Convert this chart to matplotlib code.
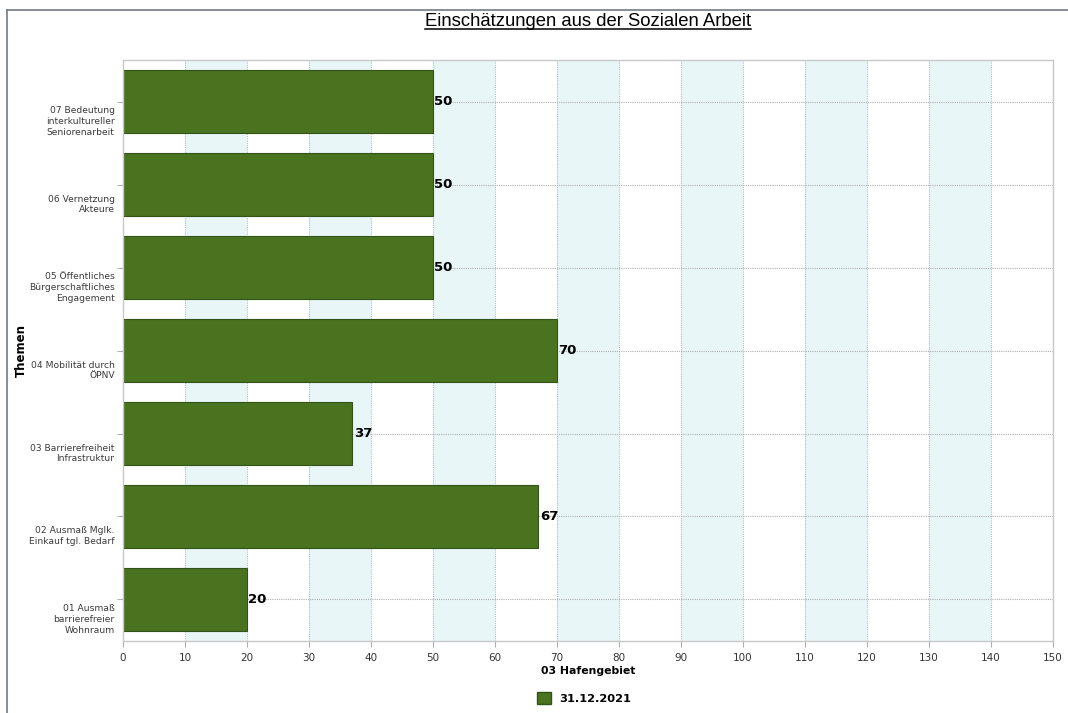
import matplotlib.pyplot as plt
from matplotlib.lines import Line2D
from matplotlib.patches import Rectangle
from matplotlib.transforms import ScaledTranslation
import numpy as np

# categories bottom -> top
themes = [
    "01 Ausmaß\nbarrierefreier\nWohnraum",
    "02 Ausmaß Mglk.\nEinkauf tgl. Bedarf",
    "03 Barrierefreiheit\nInfrastruktur",
    "04 Mobilität durch\nÖPNV",
    "05 Öffentliches\nBürgerschaftliches\nEngagement",
    "06 Vernetzung\nAkteure",
    "07 Bedeutung\ninterkultureller\nSeniorenarbeit",
]
values = [20, 67, 37, 70, 50, 50, 50]
series_label = "31.12.2021"
x_ticks = list(range(0, 151, 10))

bar_color = "#4a7320"
edge_color = "#34531a"
band_color = "#e8f6f8"

fig = plt.figure(figsize=(10.68, 7.13), dpi=100)
ax = fig.add_axes([0.1152, 0.1010, 0.8708, 0.8148])

y = np.arange(len(themes))
ax.set_xlim(0, 150)
ax.set_ylim(-0.5, len(themes) - 0.5)

# alternating background bands
for start in range(10, 150, 20):
    ax.axvspan(start, start + 10, color=band_color, zorder=0, lw=0)

for xv in x_ticks[1:]:
    ax.axvline(xv, color="#b4bfc3", linestyle=(0, (1, 1)), linewidth=0.8, zorder=1)
for yv in y:
    ax.axhline(yv, color="#b0b0b0", linestyle=(0, (1, 1)), linewidth=0.8, zorder=1)

ax.barh(y, values, height=0.75, color=bar_color, edgecolor=edge_color, linewidth=0.8, zorder=2)

for yv, v in zip(y, values):
    ax.text(v + 0.2, yv, str(v), ha="left", va="center", fontsize=9.5,
            fontweight="bold", color="black", zorder=3, family="DejaVu Sans")

ax.set_xticks(x_ticks)
ax.set_yticks(y)
ax.set_yticklabels(themes, fontsize=6.6, color="#3a3a3a", family="DejaVu Sans",
                   linespacing=1.25)
ax.tick_params(axis="x", labelsize=7.5, colors="#333333", length=4, color="#b0b0b0", pad=5)
ax.tick_params(axis="y", length=4, color="#b0b0b0", pad=2)
# the category labels sit a bit below their tick in the original
shift = ScaledTranslation(0, -0.18, fig.dpi_scale_trans)
for lbl in ax.get_yticklabels():
    lbl.set_ha("right")
    lbl.set_multialignment("right")
    lbl.set_transform(lbl.get_transform() + shift)

for sp in ax.spines.values():
    sp.set_color("#c8c8c8")
    sp.set_linewidth(1.0)

ax.set_xlabel("03 Hafengebiet", fontsize=7.8, fontweight="bold", labelpad=2)
ax.set_ylabel("Themen", fontsize=8.5, fontweight="bold")
ax.yaxis.set_label_coords(-0.102, 0.5)

# outer frame lines (top and left)
fig.add_artist(Line2D([7 / 1068, 1.0], [1 - 10 / 713, 1 - 10 / 713], color="#6e7b85", lw=1.2))
fig.add_artist(Line2D([7 / 1068, 7 / 1068], [0.0, 1 - 10 / 713], color="#6e7b85", lw=1.2))

# underlined title
title = fig.text(588 / 1068, 1 - 21 / 713, "Einschätzungen aus der Sozialen Arbeit",
                 ha="center", va="center", fontsize=13.3, family="Liberation Sans")
fig.canvas.draw()
bb = title.get_window_extent(fig.canvas.get_renderer())
uy = (bb.y0 + 1) / fig.bbox.height
fig.add_artist(Line2D([bb.x0 / fig.bbox.width, bb.x1 / fig.bbox.width], [uy, uy],
                      color="black", lw=1.1))

handle = Rectangle((0, 0), 1, 1, facecolor=bar_color, edgecolor=edge_color)
fig.legend([handle], [series_label], loc="center", bbox_to_anchor=(584 / 1068, 1 - 698 / 713),
           frameon=False, prop={"weight": "bold", "size": 8.2}, handlelength=1.3,
           handleheight=1.3, handletextpad=0.7)

fig.savefig("out.png", dpi=100)
